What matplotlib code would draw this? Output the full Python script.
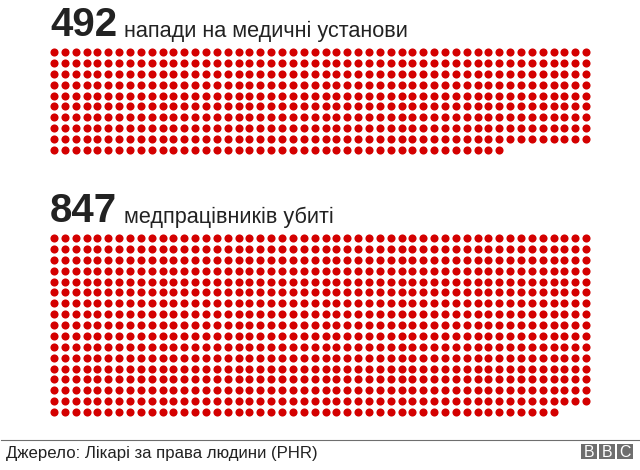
import matplotlib
matplotlib.use('Agg')
import matplotlib.pyplot as plt
from matplotlib.patches import Rectangle
import numpy as np

plt.rcParams['font.family'] = ['Liberation Sans', 'DejaVu Sans']

counts = [492, 847]
labels = ['напади на медичні установи', 'медпрацівників убиті']
source = 'Джерело: Лікарі за права людини (PHR)'
logo = ['B', 'B', 'C']

per_row = 50
red = '#d40000'
dark = '#222222'
grey = '#6e6e6e'

fig = plt.figure(figsize=(6.4, 4.7), dpi=100)
ax = fig.add_axes([0, 0, 1, 1])
# axes in pixels, y going down like the picture
ax.set_xlim(0, 640)
ax.set_ylim(470, 0)
ax.axis('off')

x0 = 54.0
step = 10.86
tops = [52.0, 238.0]
number_y = [36.5, 222.5]

for n, text, top, ny in zip(counts, labels, tops, number_y):
    rows, cols = np.divmod(np.arange(n), per_row)
    pts = ax.scatter(x0 + cols * step, top + rows * 10.88, s=34, c=red, linewidths=0)
    pts.set_snap(False)
    ax.text(50, ny, str(n), fontsize=29, fontweight='bold', color=dark, ha='left', va='baseline')
    ax.text(124, ny, text, fontsize=15.6, color=dark, ha='left', va='baseline')

# footer
ax.plot([1, 640], [439.5, 439.5], color=grey, lw=0.8)
ax.text(6, 458, source, fontsize=12.1, color=dark, ha='left', va='baseline')

# BBC blocks
for i, letter in enumerate(logo):
    bx = 581 + i * 18
    ax.add_patch(Rectangle((bx, 444), 16, 15, facecolor=grey, edgecolor='none'))
    ax.text(bx + 8, 457.3, letter, fontsize=11.4, color='white', ha='center', va='baseline')

fig.savefig('out.png', dpi=100)
